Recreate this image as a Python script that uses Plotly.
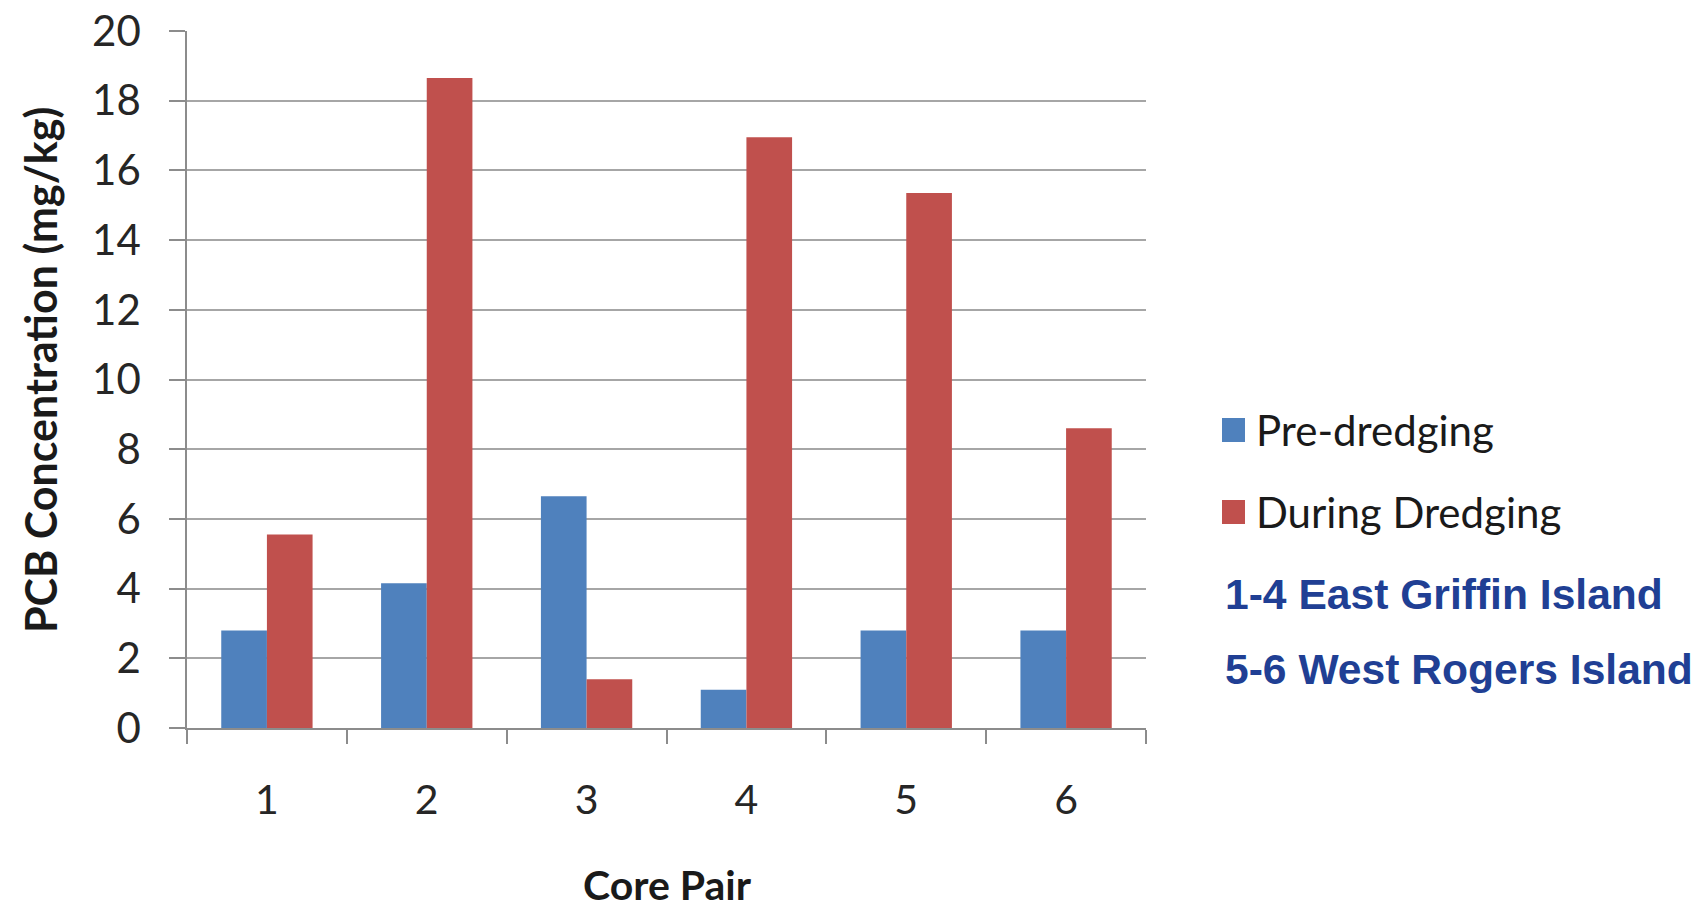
import plotly.graph_objects as go

# Core pair categories and PCB concentrations (mg/kg)
core_pairs = ["1", "2", "3", "4", "5", "6"]
pre_dredging = [2.8, 4.15, 6.65, 1.1, 2.8, 2.8]
during_dredging = [5.55, 18.65, 1.4, 16.95, 15.35, 8.6]
series_names = ["Pre-dredging", "During Dredging"]
series_colors = ["#4F81BD", "#C0504D"]
site_notes = ["1-4 East Griffin Island", "5-6 West Rogers Island"]

W, H = 1708, 909
L, R, T, B = 187, 562, 31, 181
pw, ph = W - L - R, H - T - B

def px_x(x):
    return (x - L) / pw

def px_y(y):
    return (H - B - y) / ph

fig = go.Figure()
for name, vals, col in zip(series_names, [pre_dredging, during_dredging], series_colors):
    fig.add_trace(go.Bar(x=core_pairs, y=vals, name=name, marker_color=col,
                         marker_line_width=0, showlegend=False))

text_font = "Lato, Open Sans, sans-serif"
axis_grey = "#8c8c8c"

fig.update_layout(
    width=W, height=H,
    margin=dict(l=L, r=R, t=T, b=B),
    paper_bgcolor="white", plot_bgcolor="white",
    barmode="group", bargap=1.5 / 3.5, bargroupgap=0,
    font=dict(family=text_font, color="#262626"),
    xaxis=dict(
        type="category", range=[-0.5, 5.5], automargin=False,
        showline=True, linecolor=axis_grey, linewidth=1.5,
        ticks="outside", tickson="boundaries", ticklen=14, tickwidth=1.5, tickcolor=axis_grey,
        tickfont=dict(size=41, family=text_font, color="#262626"),
        ticklabelstandoff=35,
        showgrid=False,
    ),
    yaxis=dict(
        range=[0, 20], tickvals=list(range(0, 21, 2)), automargin=False,
        showline=True, linecolor=axis_grey, linewidth=1.5,
        ticks="outside", ticklen=16, tickwidth=1.5, tickcolor=axis_grey,
        showgrid=True, gridcolor="#a6a6a6", gridwidth=1.5,
        zeroline=False,
        tickfont=dict(size=42, family=text_font, color="#262626"),
        ticklabelstandoff=20,
    ),
)

annotations = [
    dict(text="<b>Core Pair</b>", x=px_x(667), y=px_y(884), xref="paper", yref="paper",
         showarrow=False, xanchor="center", yanchor="middle",
         font=dict(size=41, family=text_font, color="#1a1a1a")),
    dict(text="<b>PCB Concentration (mg/kg)</b>", x=px_x(40), y=px_y(370), xref="paper", yref="paper",
         showarrow=False, xanchor="center", yanchor="middle", textangle=-90,
         font=dict(size=43, family=text_font, color="#1a1a1a")),
]

# Legend: coloured squares with series names
shapes = []
legend_rows = [430, 512]
for name, col, yc in zip(series_names, series_colors, legend_rows):
    shapes.append(dict(type="rect", xref="paper", yref="paper",
                       x0=px_x(1222), x1=px_x(1245), y0=px_y(yc + 12), y1=px_y(yc - 12),
                       fillcolor=col, line_width=0))
    annotations.append(dict(text=name, x=px_x(1254), y=px_y(yc), xref="paper", yref="paper",
                            showarrow=False, xanchor="left", yanchor="middle",
                            font=dict(size=42, family=text_font, color="#1a1a1a")))

# Site notes beneath the legend
for note, yc in zip(site_notes, [594, 669]):
    annotations.append(dict(text="<b>" + note + "</b>", x=px_x(1223), y=px_y(yc),
                            xref="paper", yref="paper", showarrow=False,
                            xanchor="left", yanchor="middle",
                            font=dict(size=42.6, family="Liberation Sans, Arial, sans-serif",
                                      color="#203f94")))

fig.update_layout(annotations=annotations, shapes=shapes)
fig.write_html("out.html")
